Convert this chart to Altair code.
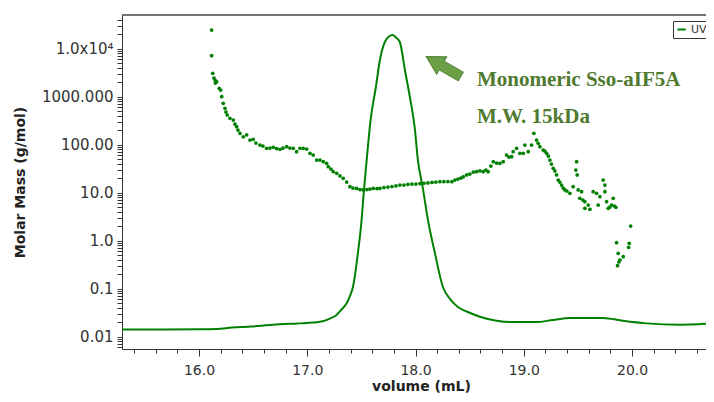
import altair as alt
import pandas as pd

# ---- UV trace (volume in mL, signal plotted on the log axis) ----
uv_volume = [15.289, 16.009, 16.166, 16.305, 16.489, 16.656, 16.840, 16.933, 17.117, 17.210,
             17.271, 17.311, 17.364, 17.394, 17.422, 17.468, 17.502, 17.524, 17.549, 17.585,
             17.634, 17.671, 17.717, 17.754, 17.789, 17.819, 17.856, 17.902, 17.948, 17.995,
             18.022, 18.066, 18.115, 18.179, 18.253, 18.327, 18.392, 18.472, 18.595, 18.749,
             18.872, 19.118, 19.269, 19.426, 19.730, 19.915, 20.134, 20.441, 20.683]
uv_signal = [0.0140, 0.0141, 0.0143, 0.0154, 0.0162, 0.0174, 0.0184, 0.0188, 0.0203, 0.0237,
             0.0281, 0.0356, 0.0492, 0.0698, 0.1075, 0.549, 2.67, 11.3, 47.5, 324,
             1577, 5760, 13800, 17800, 19100, 17000, 13500, 3565, 977, 200,
             47.5, 13.0, 2.67, 0.549, 0.1075, 0.0576, 0.0412, 0.0332, 0.0259, 0.0213,
             0.0200, 0.0200, 0.0221, 0.0243, 0.0243, 0.0213, 0.0188, 0.0176, 0.0184]

# ---- Molar mass points ----
mm_volume = [16.117, 16.117, 16.127, 16.139, 16.148, 16.163, 16.152, 16.187, 16.200, 16.210,
             16.224, 16.240, 16.249, 16.261, 16.286, 16.317, 16.332, 16.348, 16.360, 16.379,
             16.409, 16.440, 16.471, 16.501, 16.526, 16.563, 16.591, 16.625, 16.656, 16.686,
             16.717, 16.748, 16.776, 16.810, 16.840, 16.871, 16.902, 16.933, 16.963, 16.995,
             17.025, 17.055, 17.087, 17.117, 17.148, 17.179, 17.194, 17.219, 17.240, 17.272,
             17.302, 17.332, 17.364, 17.394, 17.422, 17.456, 17.487, 17.517, 17.551, 17.579,
             17.610, 17.644, 17.671, 17.708, 17.745, 17.782, 17.819, 17.856, 17.893, 17.930,
             17.967, 18.004, 18.041, 18.078, 18.115, 18.152, 18.188, 18.225, 18.262, 18.299,
             18.336, 18.364, 18.392, 18.419, 18.441, 18.472, 18.502, 18.533, 18.564, 18.595,
             18.625, 18.650, 18.671, 18.696, 18.718, 18.749, 18.779, 18.810, 18.841, 18.863,
             18.888, 18.902, 18.934, 18.964, 18.995, 19.010, 19.041, 19.072, 19.093, 19.118,
             19.133, 19.149, 19.179, 19.195, 19.211, 19.227, 19.241, 19.255, 19.272, 19.287,
             19.303, 19.318, 19.333, 19.349, 19.364, 19.380, 19.398, 19.426, 19.456, 19.488,
             19.481, 19.493, 19.502, 19.534, 19.518, 19.546, 19.564, 19.595, 19.564, 19.611,
             19.641, 19.672, 19.703, 19.687, 19.733, 19.749, 19.749, 19.765, 19.780, 19.795,
             19.811, 19.826, 19.837, 19.851, 19.987, 19.857, 19.872, 19.888, 19.918, 19.866,
             19.878, 19.974, 19.968]
mm_mass = [24270, 7080, 3043, 2428, 2207, 2034, 1910, 1482, 1365, 990,
           721, 568, 475, 412, 351, 324, 267, 235, 200, 171,
           145, 158, 124, 128, 107, 97.7, 93.1, 83.4, 84.5, 87.4,
           82.5, 79.4, 84.5, 90.0, 84.5, 83.4, 70.8, 83.4, 83.4, 80.6,
           65.6, 60.4, 47.5, 47.5, 43.8, 40.6, 34.5, 30.9, 27.1, 25.1,
           22.1, 19.8, 16.5, 13.2, 12.4, 12.2, 11.5, 11.3, 11.5, 11.8,
           12.2, 12.1, 12.2, 12.7, 13.0, 13.3, 13.7, 14.3, 14.3, 14.7,
           15.0, 15.0, 15.4, 15.6, 15.8, 16.2, 16.5, 16.8, 16.8, 16.9,
           16.8, 18.2, 19.1, 20.0, 21.3, 23.2, 24.3, 26.7, 27.1, 28.1,
           27.1, 29.4, 27.1, 35.6, 43.8, 41.2, 40.6, 43.8, 60.4, 54.9,
           55.7, 70.8, 83.4, 65.6, 65.6, 97.7, 70.8, 97.7, 171, 124,
           106, 90.0, 76.8, 73.2, 65.6, 57.6, 47.5, 39.2, 31.9, 28.1,
           23.2, 18.2, 16.5, 14.3, 12.4, 11.3, 10.7, 9.62, 13.2, 43.8,
           29.4, 23.2, 11.3, 10.4, 7.57, 6.98, 6.43, 5.49, 4.69, 4.47,
           10.4, 9.62, 8.18, 5.49, 18.2, 14.3, 10.4, 6.43, 4.69, 4.99,
           5.49, 7.57, 5.23, 4.92, 2.00, 0.900, 0.541, 0.392, 0.460, 0.299,
           0.357, 0.874, 0.722]

# ---- axes ----
x_domain = [15.289, 20.683]
y_domain = [0.0055, 49900]
x_tick_values = [15.4, 15.6, 15.8, 16.0, 16.2, 16.4, 16.6, 16.8, 17.0, 17.2, 17.4, 17.6, 17.8,
                 18.0, 18.2, 18.4, 18.6, 18.8, 19.0, 19.2, 19.4, 19.6, 19.8, 20.0, 20.2, 20.4, 20.6]
y_major_values = [0.01, 0.1, 1, 10, 100, 1000, 10000]
y_major_labels = ["0.01", "0.1", "1.0", "10.0", "100.00", "1000.000", "1.0x10\u2074"]
y_mantissas = [1, 2, 3, 4, 5, 6, 7, 8, 9]
y_exponents = [-3, -2, -1, 0, 1, 2, 3, 4]
y_tick_values = [m * 10.0 ** e for e in y_exponents for m in y_mantissas
                 if y_domain[0] <= m * 10.0 ** e <= y_domain[1]]

# ---- annotation ----
ann_text = ["Monomeric Sso-aIF5A", "M.W. 15kDa"]
ann_volume = [18.567, 18.567]
ann_mass = [2208, 374]
arrow_volume = [18.258]
arrow_mass = [4217]

GREEN = "#008000"
TXT = "#333333"

uv_df = pd.DataFrame({"volume": uv_volume, "mass": uv_signal, "series": ["UV"] * len(uv_volume)})
mm_df = pd.DataFrame({"volume": mm_volume[:len(mm_mass)], "mass": mm_mass[:len(mm_volume)]})
ann_df = pd.DataFrame({"volume": ann_volume, "mass": ann_mass, "text": ann_text})
arrow_df = pd.DataFrame({"volume": arrow_volume, "mass": arrow_mass})

y_label_expr = " : ".join(
    f"abs(datum.value - {v}) < {v * 0.001} ? '{lab}'" for v, lab in zip(y_major_values, y_major_labels)
) + " : ''"

x_enc = alt.X(
    "volume:Q",
    scale=alt.Scale(domain=x_domain, nice=False, zero=False),
    axis=alt.Axis(
        title="volume (mL)",
        values=x_tick_values,
        labelExpr="abs(datum.value - round(datum.value)) < 0.001 ? format(datum.value, '.1f') : ''",
        labelOverlap=False,
        labelFlush=False,
        labelFontSize=14,
        tickSize={"condition": {"test": "abs(datum.value - round(datum.value)) < 0.001", "value": 7}, "value": 4},
        labelPadding=7,
        titleX=299,
        titleY=37,
        titleAnchor="middle",
        titleAlign="center",
        titleBaseline="middle",
        grid=False,
    ),
)
y_enc = alt.Y(
    "mass:Q",
    scale=alt.Scale(type="log", domain=y_domain, nice=False),
    axis=alt.Axis(
        title="Molar Mass (g/mol)",
        values=y_tick_values,
        labelExpr=y_label_expr,
        labelOverlap=False,
        labelFlush=False,
        labelFontSize=15,
        tickSize=5,
        labelPadding=4,
        titleX=-102,
        titleY=167,
        titleAlign="center",
        titleBaseline="middle",
        titleAngle=-90,
        grid=False,
    ),
)

mass_layer = alt.Chart(mm_df).mark_circle(size=14, color=GREEN, opacity=1, clip=True).encode(x=x_enc, y=y_enc)

uv_layer = alt.Chart(uv_df).mark_line(strokeWidth=2, interpolate="monotone", clip=True).encode(
    x=x_enc,
    y=y_enc,
    color=alt.Color(
        "series:N",
        scale=alt.Scale(domain=["UV"], range=[GREEN]),
        legend=alt.Legend(
            title=None,
            orient="none",
            legendX=551,
            legendY=6,
            strokeColor="#333333",
            fillColor="white",
            padding=3,
            cornerRadius=0,
            symbolType="stroke",
            symbolSize=70,
            symbolStrokeWidth=2,
            labelFont="DejaVu Sans",
            labelFontSize=11,
            labelColor=TXT,
            labelOffset=4,
        ),
    ),
)

arrow_path = "M -1 -0.25 L 0.1 -0.25 L 0.1 -0.5 L 1 0 L 0.1 0.5 L 0.1 0.25 L -1 0.25 Z"
arrow_layer = alt.Chart(arrow_df).mark_point(
    shape=arrow_path, angle=210, size=1600, filled=True, fill="#6a9f45",
    stroke="#55843a", strokeWidth=1, opacity=1,
).encode(x=x_enc, y=y_enc)

text_layer = alt.Chart(ann_df).mark_text(
    align="left", baseline="middle", font="Liberation Serif", fontWeight="bold",
    fontSize=21, color="#4f7a2f",
).encode(x=x_enc, y=y_enc, text="text:N")

top_border = alt.Chart(pd.DataFrame({"a": [0]})).mark_rule(color="#444444", strokeWidth=1.5).encode(
    x=alt.value(0), x2=alt.value(584), y=alt.value(0)
)

chart = alt.layer(mass_layer, uv_layer, arrow_layer, text_layer, top_border).properties(
    width=584,
    height=334,
    autosize=alt.AutoSizeParams(type="none"),
    padding={"left": 114, "top": 7, "right": 0, "bottom": 45},
    background="white",
).configure_view(stroke=None).configure_axis(
    domainColor="#333333",
    domainWidth=1,
    tickColor="#333333",
    tickWidth=1,
    labelColor=TXT,
    labelFont="DejaVu Sans",
    titleFont="DejaVu Sans",
    titleFontSize=14,
    titleFontWeight="bold",
    titleColor="#222222",
)

chart.save("out.html", embed_options={"renderer": "svg", "actions": False})
